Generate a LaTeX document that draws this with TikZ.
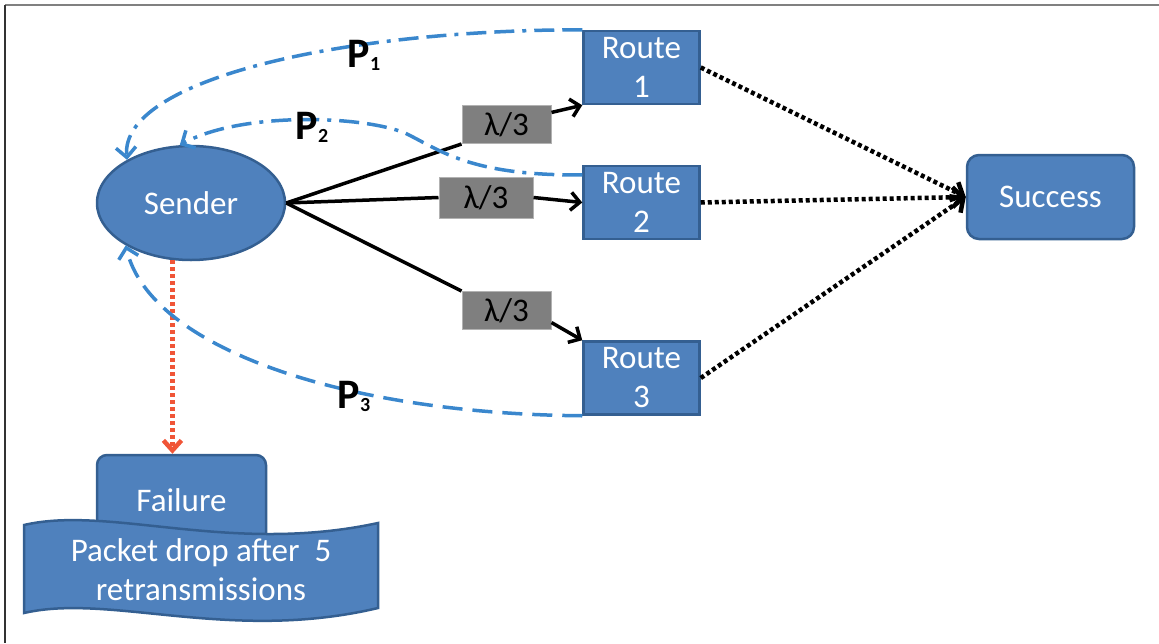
\documentclass[tikz,border=0pt]{standalone}
\usepackage{fontspec}
\setmainfont{Carlito}
\usetikzlibrary{arrows.meta,shapes.geometric}
\definecolor{boxblue}{RGB}{79,129,189}
\definecolor{boxedge}{RGB}{52,95,145}
\definecolor{pathblue}{RGB}{58,135,205}
\definecolor{rategray}{RGB}{127,127,127}
\definecolor{dropred}{RGB}{240,85,55}
\newcommand{\boxfont}{\fontsize{33}{39}\selectfont}
\newcommand{\plab}[1]{\fontsize{42}{42}\selectfont\bfseries P\raisebox{-3pt}{\fontsize{20}{20}\selectfont #1}}

\begin{document}
\begin{tikzpicture}[x=1pt, y=-1pt,
  bluebox/.style={draw=boxedge, fill=boxblue, line width=2.5pt, text=white,
    font=\boxfont, align=center, inner sep=0pt},
  ratebox/.style={fill=rategray, draw=rategray!60, line width=1pt, font=\boxfont,
    minimum width=89pt, minimum height=38pt, inner sep=0pt},
  feed/.style={line width=3.5pt, -{Straight Barb[length=9pt, width=18pt]}},
  retry/.style={pathblue, line width=3.5pt, -{Straight Barb[length=10pt, width=20pt]}},
  hop/.style={line width=4.5pt, dash pattern=on 4pt off 3pt,
    -{Straight Barb[length=10pt, width=20pt]}}]
  \useasboundingbox (0,0) rectangle (1159,643);
  % Frame
  \draw[gray, line width=2.5pt] (5,5) -- (1159,5);
  \draw[black!80, line width=2.5pt] (5,5) -- (5,643);

  % Sender and routes
  \node[bluebox, ellipse, minimum width=188pt, minimum height=114pt] (sender) at (191,203) {Sender};
  \foreach \i/\y in {1/67.5, 2/202.5, 3/378}{
    \node[bluebox, minimum width=116pt, minimum height=73pt] (route\i) at (641.5,\y) {Route\\\i};
  }
  \node[bluebox, rounded corners=12pt, minimum width=167pt, minimum height=84pt] (success) at (1050.5,197) {Success};

  % Rate labels
  \node[ratebox] (rate1) at (506.5,124.5) {λ/3};
  \node[ratebox, minimum width=94pt, minimum height=41pt] (rate2) at (486,197.5) {λ/3};
  \node[ratebox] (rate3) at (506.5,310.5) {λ/3};

  \draw[line width=3.5pt] (sender.east) -- (rate1.south west);
  \draw[line width=3.5pt] (sender.east) -- (rate2.west);
  \draw[line width=3.5pt] (sender.east) -- (rate3.north west);
  \draw[feed] (rate1.15) -- (route1.south west);
  \draw[feed] (rate2.east) -- (route2.west);
  \draw[feed] (rate3.-15) -- (route3.north west);

  % Routes to success
  \foreach \i in {1,2,3}
    \draw[hop] (route\i.east) -- (success.west);

  % Failure
  \node[bluebox, rounded corners=10pt, minimum width=169pt, minimum height=90pt] (fail) at (181.5,500) {Failure};
  \draw[boxedge, fill=boxblue, line width=2.5pt]
    (24,525) .. controls (110,505) and (230,555) .. (378,523)
    -- (378,608) .. controls (230,643) and (110,593) .. (24,613) -- cycle;
  \node[text=white, font=\boxfont, align=center] (drop) at (201,570) {Packet drop after~ 5\\retransmissions};
  \draw[dropred, line width=4.5pt, dash pattern=on 4pt off 3pt,
    -{Straight Barb[length=10pt, width=18pt]}] (sender.252) -- (sender.252 |- fail.north);

  % Retransmission paths
  \draw[retry, dash pattern=on 20pt off 8pt on 20pt off 8pt on 4pt off 8pt]
    (route1.north west) .. controls (340,30) and (120,80) .. (sender.146);
  \draw[retry, dash pattern=on 20pt off 8pt on 20pt off 8pt on 4pt off 8pt]
    (route2.155) .. controls (470,176) and (440,150) .. (405,133)
    .. controls (360,115) and (240,112) .. (sender.101);
  \draw[retry, dash pattern=on 20pt off 10pt]
    (route3.south west) .. controls (350,414) and (150,350) .. (sender.213);
  \node (p1) at (364,55) {\plab{1}};
  \node (p2) at (312,127) {\plab{2}};
  \node (p3) at (354,396) {\plab{3}};
\end{tikzpicture}
\end{document}
